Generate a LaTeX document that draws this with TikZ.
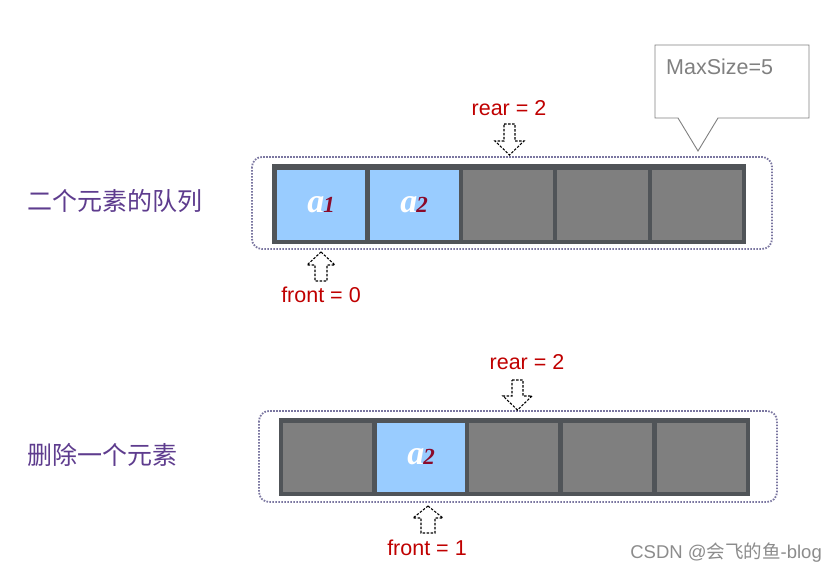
\documentclass[tikz,border=0pt]{standalone}
\usepackage{fontspec}
\setmainfont{Liberation Sans}
\newfontfamily\cjk{Noto Sans CJK SC}
\newfontfamily\tms{Liberation Serif}
\definecolor{barc}{HTML}{505458}
\definecolor{cellc}{HTML}{7F7F7F}
\definecolor{bluec}{HTML}{99CCFF}
\definecolor{redc}{HTML}{C00000}
\definecolor{subc}{HTML}{8B0A2A}
\definecolor{purp}{HTML}{5E3C8E}
\definecolor{dotc}{HTML}{7A76A0}
\definecolor{callc}{HTML}{808080}
\tikzset{
  bar/.style={fill=barc, draw=none},
  cell/.style={fill=cellc, draw=none},
  bcell/.style={fill=bluec, draw=none},
  outline/.style={draw=dotc, line width=1.8pt, dash pattern=on 1.6pt off 1.4pt, rounded corners=10pt},
  hollow/.style={draw=black, dash pattern=on 2.5pt off 1.5pt, line width=1.1pt, fill=white},
  lab/.style={text=redc, font=\fontsize{21.5}{21.5}\selectfont, inner sep=0pt},
  cjklab/.style={text=purp, font=\cjk\fontsize{25}{25}\selectfont, inner sep=0pt, anchor=west},
  elem/.style={inner sep=0pt, font=\tms\bfseries\itshape\fontsize{34}{34}\selectfont, text=white}
}
\newcommand{\elemtext}[1]{a\kern-1pt{\fontsize{23}{23}\selectfont\color{subc}#1}}
\begin{document}
\begin{tikzpicture}[x=1pt,y=-1pt]
\useasboundingbox (0,0) rectangle (839,574);
\fill[white] (0,0) rectangle (839,574);

% ---------- top queue ----------
\draw[outline] (252,157) rectangle (772,249);
\fill[bar] (272,164) rectangle (746,244);
\fill[bcell] (277,170) rectangle (365,240);
\fill[bcell] (370,170) rectangle (459,240);
\fill[cell] (463,170) rectangle (553,240);
\fill[cell] (557,170) rectangle (648,240);
\fill[cell] (652,170) rectangle (742,240);
\node[elem] (a1) at (321,205) {\elemtext{1}};
\node[elem] (a2) at (414,205) {\elemtext{2}};

\node[cjklab] (t1) at (27,201) {二个元素的队列};

% rear arrow (top)
\draw[hollow] (504,124) -- (515,124) -- (515,141) -- (524,141) -- (509.5,155) -- (495,141) -- (504,141) -- cycle;
\node[lab] (rear1) at (509,108) {rear = 2};

% front arrow (top)
\draw[hollow] (321,252) -- (335,265) -- (327,265) -- (327,281) -- (315,281) -- (315,265) -- (307,265) -- cycle;
\node[lab] (front1) at (321,295) {front = 0};

% callout
\draw[callc, fill=white, line width=0.9pt] (655,45) -- (809,45) -- (809,118) -- (718,118) -- (698,151) -- (678,118) -- (655,118) -- cycle;
\node[anchor=west, inner sep=0pt, text=callc, font=\fontsize{21.5}{21.5}\selectfont] (ms) at (666,67) {MaxSize=5};

% ---------- bottom queue ----------
\draw[outline] (259,411) rectangle (777,502);
\fill[bar] (279,418) rectangle (750,496);
\fill[cell] (283,423) rectangle (372,492);
\fill[bcell] (377,423) rectangle (465,492);
\fill[cell] (469,423) rectangle (558,492);
\fill[cell] (563,423) rectangle (652,492);
\fill[cell] (657,423) rectangle (746,492);
\node[elem] (b2) at (421,457) {\elemtext{2}};

\node[cjklab] (t2) at (27,455) {删除一个元素};

% rear arrow (bottom)
\draw[hollow] (512,380) -- (523,380) -- (523,396) -- (532,396) -- (517.5,410) -- (503,396) -- (512,396) -- cycle;
\node[lab] (rear2) at (527,362) {rear = 2};

% front arrow (bottom)
\draw[hollow] (428,506) -- (443,518) -- (435,518) -- (435,533) -- (421,533) -- (421,518) -- (413,518) -- cycle;
\node[lab] (front2) at (427,548) {front = 1};

% watermark
\node[anchor=east, inner sep=0pt, text=black!45, font=\fontsize{18.5}{18.5}\selectfont] (wm) at (822,553) {CSDN @{\cjk 会飞的鱼}-blog};
\end{tikzpicture}
\end{document}
